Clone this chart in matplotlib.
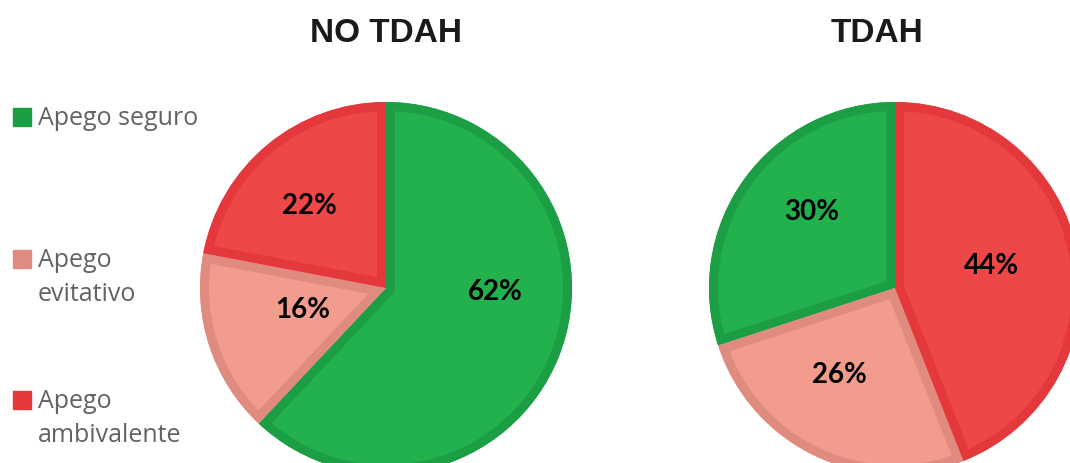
import matplotlib.pyplot as plt
from matplotlib.patches import Rectangle, Wedge

# data
categories = ['Apego seguro', 'Apego evitativo', 'Apego ambivalente']
legend_labels = ['Apego seguro', 'Apego\nevitativo', 'Apego\nambivalente']
no_tdah = [62, 16, 22]
tdah = [30, 26, 44]
titles = ['NO TDAH', 'TDAH']

fills = ['#23b14d', '#f29c8e', '#ee4747']
edges = ['#1c9e45', '#e08b80', '#e4383c']

W, H = 1070, 463
DPI = 100
R = 186

fig = plt.figure(figsize=(W / DPI, H / DPI), dpi=DPI)


def draw_pie(values, cx, cy, counterclock, label_pos, title, title_x):
    ax = fig.add_axes([(cx - R) / W, 1 - (cy + R) / H, 2 * R / W, 2 * R / H])
    wedges, _, autotexts = ax.pie(values, colors=fills, startangle=90, counterclock=counterclock,
                                  autopct='%.0f%%', radius=1, wedgeprops=dict(linewidth=0),
                                  textprops=dict(family='Lato', fontweight='bold', fontsize=20,
                                                 color='black', zorder=5))
    # inner border: a thick outline clipped to its own wedge
    for w, ec in zip(wedges, edges):
        border = Wedge(w.center, w.r, w.theta1, w.theta2, facecolor='none', edgecolor=ec,
                       linewidth=13, joinstyle='round', zorder=3)
        ax.add_patch(border)
        border.set_clip_path(w)
    for t, (x, y) in zip(autotexts, label_pos):
        t.set_position((x, y))
        t.set_ha('center')
        t.set_va('center')
    ax.set_xlim(-1, 1)
    ax.set_ylim(-1, 1)
    ax.axis('off')
    fig.text(title_x / W, 1 - 34 / H, title, ha='center', va='center',
             family='Liberation Sans', fontweight='bold', fontsize=24, color='#1a1a1a')
    return ax


draw_pie(no_tdah, 386, 288, False, [(0.59, -0.02), (-0.45, -0.12), (-0.41, 0.44)], titles[0], 386)
draw_pie(tdah, 895, 288, True, [(-0.45, 0.41), (-0.30, -0.47), (0.52, 0.12)], titles[1], 877)

# legend drawn by hand so the square sits on the first line
legend_y = [117, 259, 400]
for lab, ec, y in zip(legend_labels, edges, legend_y):
    fig.patches.append(Rectangle((13 / W, 1 - (y + 9) / H), 18 / W, 18 / H,
                                 transform=fig.transFigure, color=ec))
    fig.text(38 / W, 1 - (y - 11) / H, lab, ha='left', va='top', family='Open Sans',
             fontsize=18, color='#626262', linespacing=1.45)

fig.savefig('out.png', dpi=DPI)
